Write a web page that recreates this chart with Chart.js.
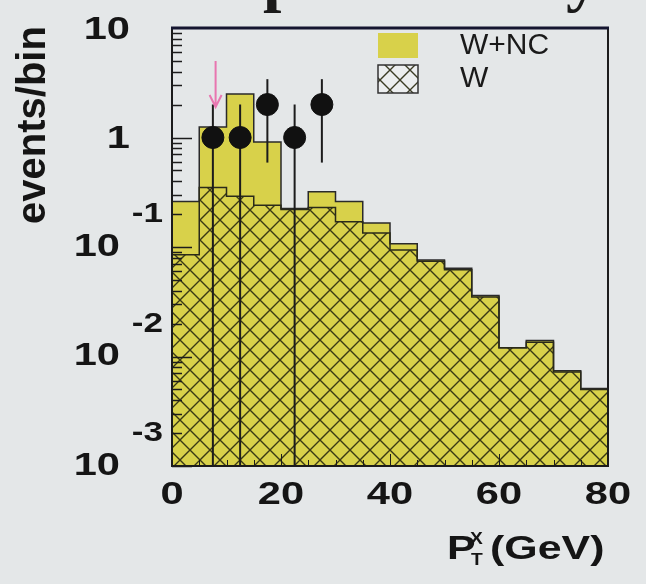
<!DOCTYPE html>
<html><head><meta charset="utf-8">
<script src="https://cdn.jsdelivr.net/npm/chart.js@4"></script>
<style>html,body{margin:0;padding:0;background:#e4e7e8;}#wrap{width:646px;height:584px;position:relative;}</style>
</head><body><div id="wrap"><canvas id="c" width="646" height="584"></canvas></div>
<script>
// ---- data ----
const binEdges = [0,5,10,15,20,25,30,35,40,45,50,55,60,65,70,75,80];
const wncCounts = [0.26,1.25,2.5,0.91,0.225,0.32,0.26,0.166,0.107,0.076,0.064,0.036,0.012,0.014,0.0074,0.0051];
const wCounts   = [0.085,0.35,0.29,0.24,0.22,0.23,0.17,0.134,0.094,0.074,0.062,0.035,0.012,0.0135,0.0072,0.005];
const dataX   = [7.5,12.5,17.5,22.5,27.5];
const dataY   = [1,1,2,1,2];
const dataErr = [1,1,1.41,1,1.41];
const arrowX = 8, arrowFrom = 5, arrowTo = 1.9;
const yTickValues = [10,1,0.1,0.01,0.001];
const yTickBase   = ['10','1','10','10','10'];
const yTickExp    = ['','','-1','-2','-3'];
const xTickValues = [0,20,40,60,80];
const xTickLabels = ['0','20','40','60','80'];
const legendLabels = ['W+NC','W'];
const titleText = 'preliminary';
const yTitle = 'events/bin';

const YELLOW = '#d8d14a';
const DARK = '#1c1c1c';

function stepPoints(counts){
  return binEdges.map((e,i)=>({x:e, y:counts[Math.min(i,counts.length-1)]}));
}
function makeHatch(bg){
  const s = 20, c = document.createElement('canvas');
  c.width = s; c.height = s;
  const g = c.getContext('2d');
  if (bg){ g.fillStyle = bg; g.fillRect(0,0,s,s); }
  g.strokeStyle = 'rgba(40,40,15,0.9)'; g.lineWidth = 1.4;
  g.beginPath();
  g.moveTo(-2,-2); g.lineTo(s+2,s+2);
  g.moveTo(-2,s+2); g.lineTo(s+2,-2);
  g.stroke();
  return g.createPattern(c,'repeat');
}
const hatch = makeHatch(null);
const hatchLegend = makeHatch('#eceeef');

function txt(ctx, s, x, y, font, align, sx){
  ctx.save();
  ctx.font = font; ctx.textBaseline = 'middle';
  const w = ctx.measureText(s).width * sx;
  let x0 = x;
  if (align==='right') x0 = x - w; else if (align==='center') x0 = x - w/2;
  ctx.translate(x0, y); ctx.scale(sx,1);
  ctx.textAlign = 'left';
  ctx.fillText(s, 0, 0);
  ctx.restore();
}

const decor = {
  id:'decor',
  beforeDatasetDraw(chart, args){
    if (args.index !== 0) return;
    const ctx = chart.ctx, xs = chart.scales.x, ys = chart.scales.y, a = chart.chartArea;
    ctx.save();
    ctx.strokeStyle = DARK; ctx.lineWidth = 2;
    dataX.forEach((xv,i)=>{
      const px = xs.getPixelForValue(xv);
      const hi = ys.getPixelForValue(dataY[i]+dataErr[i]);
      const lowV = dataY[i]-dataErr[i];
      const lo = lowV > 0 ? ys.getPixelForValue(lowV) : a.bottom;
      ctx.beginPath(); ctx.moveTo(px, hi); ctx.lineTo(px, Math.min(lo, a.bottom)); ctx.stroke();
    });
    ctx.restore();
  },
  afterDraw(chart){
    const ctx = chart.ctx, xs = chart.scales.x, ys = chart.scales.y, a = chart.chartArea;
    ctx.save();
    // arrow
    const ax = xs.getPixelForValue(arrowX), ay0 = ys.getPixelForValue(arrowFrom), ay1 = ys.getPixelForValue(arrowTo);
    ctx.strokeStyle = 'rgba(232,105,170,0.9)'; ctx.lineWidth = 2;
    ctx.beginPath(); ctx.moveTo(ax, ay0); ctx.lineTo(ax, ay1);
    ctx.moveTo(ax-6, ay1-12); ctx.lineTo(ax, ay1); ctx.lineTo(ax+6, ay1-12); ctx.stroke();
    // frame
    ctx.strokeStyle = DARK; ctx.lineWidth = 2;
    ctx.strokeRect(a.left, a.top, a.right-a.left, a.bottom-a.top);
    ctx.strokeStyle = '#151530'; ctx.lineWidth = 3;
    ctx.beginPath(); ctx.moveTo(a.left-1, a.top); ctx.lineTo(a.right+1, a.top); ctx.stroke();
    // y ticks (log, inside)
    ctx.strokeStyle = DARK; ctx.lineWidth = 1.5;
    ctx.beginPath();
    for (let n=-3;n<=0;n++){
      for (let k=1;k<=9;k++){
        const v = k*Math.pow(10,n);
        const py = Math.round(ys.getPixelForValue(v))+0.5;
        const len = k===1 ? 20 : 10;
        ctx.moveTo(a.left, py); ctx.lineTo(a.left+len, py);
      }
    }
    ctx.stroke();
    // x ticks
    ctx.lineWidth = 1; ctx.beginPath();
    for (let v=0; v<=80; v+=5){
      const px = Math.round(xs.getPixelForValue(v))+0.5;
      const len = v%20===0 ? 12 : 6;
      ctx.moveTo(px, a.bottom); ctx.lineTo(px, a.bottom-len);
    }
    ctx.stroke();
    // tick labels
    ctx.fillStyle = '#151515';
    yTickValues.forEach((v,i)=>{
      const py = ys.getPixelForValue(v);
      if (!yTickExp[i]){
        txt(ctx, yTickBase[i], 130, py+2, 'bold 32px "Liberation Sans", Arial, sans-serif', 'right', 1.3);
      } else {
        txt(ctx, yTickBase[i], 120, py, 'bold 32px "Liberation Sans", Arial, sans-serif', 'right', 1.3);
        txt(ctx, yTickExp[i], 163, py-32, 'bold 27px "Liberation Sans", Arial, sans-serif', 'right', 1.3);
      }
    });
    xTickValues.forEach((v,i)=>{
      txt(ctx, xTickLabels[i], xs.getPixelForValue(v), 495, 'bold 32px "Liberation Sans", Arial, sans-serif', 'center', 1.3);
    });
    // x title
    txt(ctx, 'P', 447, 550, 'bold 33px "Liberation Sans", Arial, sans-serif', 'left', 1.3);
    txt(ctx, 'X', 470, 540, 'bold 16px "Liberation Sans", Arial, sans-serif', 'left', 1.2);
    txt(ctx, 'T', 471, 561, 'bold 16px "Liberation Sans", Arial, sans-serif', 'left', 1.2);
    txt(ctx, '(GeV)', 490, 550, 'bold 33px "Liberation Sans", Arial, sans-serif', 'left', 1.3);
    // y title
    ctx.save();
    ctx.translate(34, 125); ctx.rotate(-Math.PI/2);
    ctx.font = 'bold 40px "Liberation Sans", Arial, sans-serif';
    ctx.textAlign = 'center'; ctx.textBaseline = 'middle';
    ctx.fillText(yTitle, 0, 0);
    ctx.restore();
    // legend
    ctx.fillStyle = YELLOW; ctx.fillRect(378, 33, 40, 25);
    ctx.fillStyle = hatchLegend; ctx.fillRect(378, 65, 40, 28);
    ctx.strokeStyle = '#333'; ctx.lineWidth = 1.5; ctx.strokeRect(378, 65, 40, 28);
    ctx.fillStyle = '#1a1a1a';
    txt(ctx, legendLabels[0], 460, 46, '30px "Liberation Sans", Arial, sans-serif', 'left', 1.0);
    txt(ctx, legendLabels[1], 460, 79, '30px "Liberation Sans", Arial, sans-serif', 'left', 1.0);
    // cropped title
    ctx.font = 'bold 66px "Liberation Serif", "Times New Roman", serif';
    ctx.textAlign = 'left'; ctx.textBaseline = 'alphabetic';
    ctx.fillStyle = '#1a1a1a';
    ctx.fillText(titleText, 263, -1);
    ctx.restore();
  }
};

new Chart(document.getElementById('c'), {
  data: {
    datasets: [
      { type:'scatter', label:'data', data: dataX.map((x,i)=>({x, y:dataY[i]})),
        pointRadius:11, pointBackgroundColor:'#111', pointBorderColor:'#111', pointHoverRadius:11 },
      { type:'line', label: legendLabels[1], data: stepPoints(wCounts), stepped:true,
        borderColor:'#2a2a1a', borderWidth:1.5, pointRadius:0, fill:'start', backgroundColor: hatch },
      { type:'line', label: legendLabels[0], data: stepPoints(wncCounts), stepped:true,
        borderColor:'#2a2a2a', borderWidth:1.5, pointRadius:0, fill:'start', backgroundColor: YELLOW }
    ]
  },
  options: {
    responsive:false, animation:false, devicePixelRatio:1,
    layout:{ padding:{ left:172, top:28, right:38, bottom:118 } },
    plugins:{ legend:{display:false}, tooltip:{enabled:false} },
    scales:{
      x:{ type:'linear', min:0, max:80, display:false },
      y:{ type:'logarithmic', min:0.001, max:10, display:false }
    }
  },
  plugins:[decor]
});
</script></body></html>
